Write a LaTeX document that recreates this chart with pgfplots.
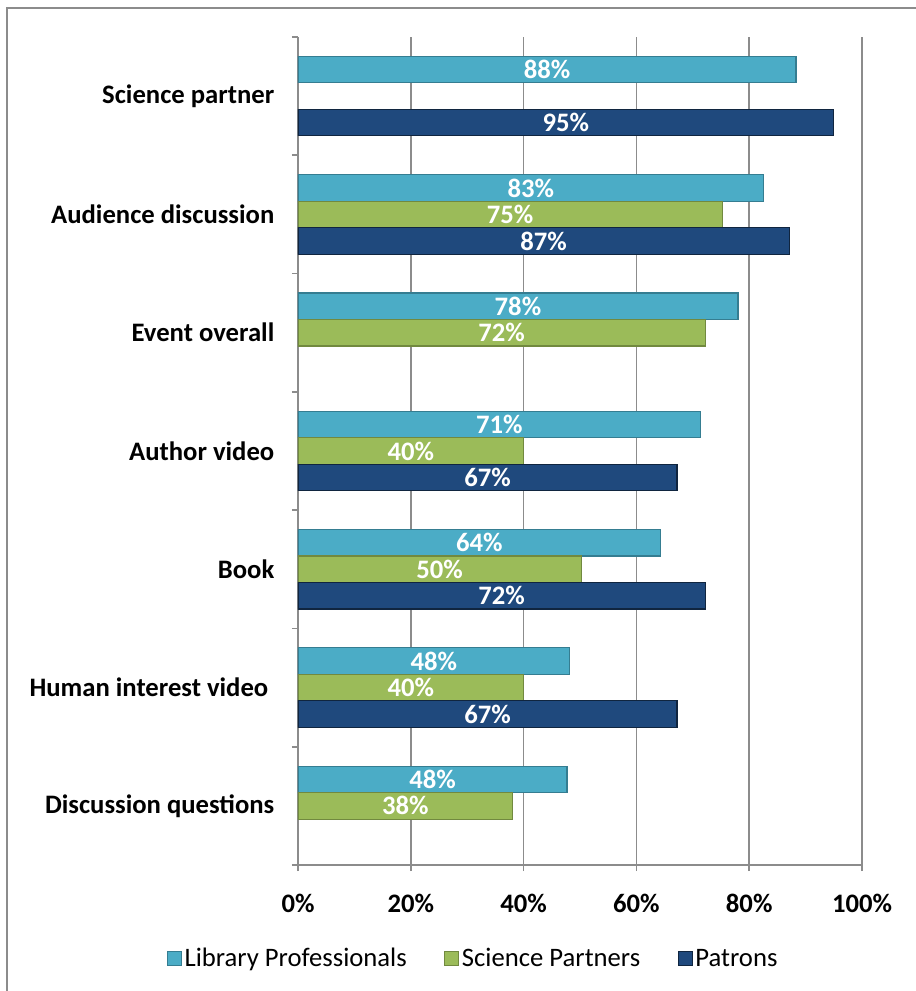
\documentclass[border=0pt]{standalone}
\usepackage{fontspec}
\setmainfont{Carlito}
\usepackage{pgfplots}
\usepackage{pgfplotstable}
\pgfplotsset{compat=1.18}
\definecolor{lpfill}{HTML}{4BACC6}
\definecolor{lpedge}{HTML}{357D91}
\definecolor{spfill}{HTML}{9BBB59}
\definecolor{spedge}{HTML}{71893F}
\definecolor{pafill}{HTML}{1F497D}
\definecolor{paedge}{HTML}{10253F}
\definecolor{gridgray}{HTML}{8C8C8C}
\newcommand\chfont{\fontsize{20pt}{24pt}\selectfont}

% share of each group that found a component engaging (%), nan = not asked
\pgfplotstableread{
pos lp sp pa
0 47.7 38.1 nan
1 48.2 40.0 67.2
2 64.3 50.2 72.2
3 71.4 40.0 67.2
4 78.0 72.2 nan
5 82.6 75.2 87.1
6 88.3 nan 95.0
}\engage

\pgfplotsset{
  /pgf/number format/assume math mode=true,
  lgd/.style={legend image code/.code={\draw[##1, line width=0.9pt] (0pt,-5.25pt) rectangle (10.5pt,5.25pt);}},
  barlab/.style={forget plot, draw=none, mark=none,
    nodes near coords={\pgfmathprintnumber[fixed,precision=0]{\pgfplotspointmeta}\%},
    every node near coord/.append style={anchor=center, text=white, font=\chfont\bfseries}},
}

\begin{document}
\begin{tikzpicture}
\useasboundingbox (-223.5pt,-94.5pt) rectangle (462.75pt,648.75pt);
\draw[gridgray, line width=1.5pt] (-218.25pt,-150pt) -- (-218.25pt,642.75pt) -- (520pt,642.75pt);
\begin{axis}[
  at={(0pt,0pt)}, anchor=south west,
  scale only axis, width=423pt, height=621pt,
  xmin=0, xmax=100, ymin=-0.5, ymax=6.5,
  axis x line*=bottom, axis y line*=left,
  axis line style={gridgray, line width=1.2pt},
  xmajorgrids, grid style={gridgray, line width=1.2pt},
  xtick={0,20,...,100},
  xticklabels={0\%,20\%,40\%,60\%,80\%,100\%},
  ytick={0,...,6},
  yticklabels={Discussion questions, Human interest video\hspace*{4.5pt}, Book, Author video, Event overall, Audience discussion, Science partner},
  minor ytick={-0.5,0.5,...,6.5},
  tick align=outside,
  major tick length=4.5pt, minor tick length=4.5pt,
  tick style={gridgray, line width=1.2pt},
  major y tick style={draw=none},
  xticklabel style={font=\chfont\bfseries, yshift=-13.5pt},
  yticklabel style={font=\chfont\bfseries, xshift=-9.75pt},
  legend style={at={(0.311,-0.113)}, anchor=center, draw=none, fill=none,
    legend columns=-1, font=\chfont,
    /tikz/every even column/.append style={column sep=26pt}},
]
\addplot[xbar, lgd, bar width=0.224, bar shift=0.224, fill=lpfill, draw=lpedge, line width=0.9pt]
  table[x=lp, y=pos] {\engage};
\addplot[xbar, lgd, bar width=0.224, bar shift=0, fill=spfill, draw=spedge, line width=0.9pt]
  table[x=sp, y=pos] {\engage};
\addplot[xbar, lgd, bar width=0.224, bar shift=-0.224, fill=pafill, draw=paedge, line width=0.9pt]
  table[x=pa, y=pos] {\engage};
\legend{Library Professionals, Science Partners, Patrons}

\addplot[barlab, point meta=\thisrow{lp}] table[x expr=\thisrow{lp}/2, y expr=\thisrow{pos}+0.224] {\engage};
\addplot[barlab, point meta=\thisrow{sp}] table[x expr=\thisrow{sp}/2, y=pos] {\engage};
\addplot[barlab, point meta=\thisrow{pa}] table[x expr=\thisrow{pa}/2, y expr=\thisrow{pos}-0.224] {\engage};
\end{axis}
\end{tikzpicture}
\end{document}
